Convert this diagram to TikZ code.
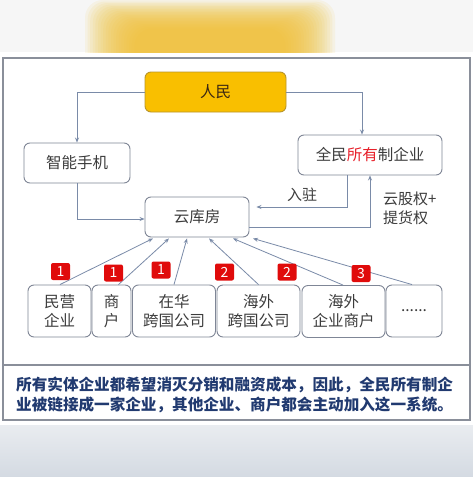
\documentclass[tikz,border=0pt]{standalone}
\usepackage{fontspec}
\setmainfont{Noto Sans CJK SC}
\newfontfamily\capfont{Noto Sans CJK SC}
\usetikzlibrary{arrows.meta,calc}
\definecolor{boxc}{HTML}{7F8696}
\definecolor{linec}{HTML}{7A8BA8}
\definecolor{txt}{HTML}{3C3C3C}
\definecolor{gold}{HTML}{F9BF00}
\definecolor{goldb}{HTML}{B8952A}
\definecolor{badge}{HTML}{E00B0B}
\definecolor{redt}{HTML}{E8202A}
\definecolor{capc}{HTML}{213A70}
\definecolor{framec}{HTML}{8A8F9A}
\definecolor{blob}{HTML}{F0C030}
\definecolor{bgtop}{HTML}{F6F6F6}
\definecolor{bgA}{HTML}{E9ECF0}
\definecolor{bgB}{HTML}{D4DAE2}
\begin{document}
\begin{tikzpicture}[x=1pt,y=-1pt,
  box/.style={draw=boxc, rounded corners=6pt, line width=0.9pt, fill=white, text=txt,
    font=\fontsize{15.5}{19}\selectfont, align=center, inner sep=0pt},
  arr/.style={draw=linec, line width=0.8pt, -{Stealth[length=5pt,width=4pt]}},
  badgebox/.style={fill=badge, rounded corners=2pt, text=white, minimum width=19pt,
    minimum height=17pt, inner sep=0pt, font=\fontsize{14}{14}\selectfont},
  lbl/.style={text=txt, font=\fontsize{15}{19}\selectfont, inner sep=0pt, align=left},
  captext/.style={text=capc, font=\capfont\bfseries\fontsize{15.6}{20}\selectfont, inner sep=0pt, anchor=west}]
\useasboundingbox (0,0) rectangle (473,477);
% backgrounds
\fill[white] (0,0) rectangle (473,477);
\fill[bgtop] (0,0) rectangle (473,52);
\begin{scope}
  \clip (0,0) rectangle (473,52);
  \foreach \i in {0,...,19}{
    \fill[blob, opacity=0.09, rounded corners=18pt]
      ({85+\i*2.6},{0+\i*1.5}) rectangle ({335-\i*2.6},{90});
  }
\end{scope}
\shade[top color=bgA, bottom color=bgB] (0,425) rectangle (473,477);
% frame
\draw[framec, line width=1.2pt] (3,58) rectangle (470,420);
\draw[framec, line width=1.2pt] (3,365) -- (470,365);
% main nodes
\node[box, fill=gold, draw=goldb, text={black!70!brown}, minimum width=141pt, minimum height=40pt] (renmin) at (215.5,92) {人民};
\node[box, minimum width=106pt, minimum height=40pt] (zhineng) at (77,163) {智能手机};
\node[box, minimum width=144pt, minimum height=40pt] (quanmin) at (370,155) {全民{\color{redt}所有}制企业};
\node[box, minimum width=104pt, minimum height=40pt] (yunku) at (197,217) {云库房};
% bottom boxes
\node[box, minimum width=63pt, minimum height=52pt] (b1) at (59.5,311) {民营\\企业};
\node[box, minimum width=39pt, minimum height=52pt] (b2) at (111.5,311) {商\\户};
\node[box, minimum width=83pt, minimum height=52pt] (b3) at (174,311) {在华\\跨国公司};
\node[box, minimum width=83pt, minimum height=52pt] (b4) at (258.5,311) {海外\\跨国公司};
\node[box, minimum width=83pt, minimum height=52pt] (b5) at (343.5,311.5) {海外\\企业商户};
\node[box, minimum width=56pt, minimum height=52pt] (b6) at (414,311) {......};
% top connectors
\draw[arr] (renmin.west) -| (zhineng.north);
\draw[arr] (renmin.east) -| ($(quanmin.north)+(-8,0)$);
\draw[arr] (zhineng.south) |- ($(yunku.west)+(0,2)$);
\draw[arr, shorten >=7pt] ($(quanmin.south)+(-23,0)$) |- ($(yunku.east)+(0,-10)$);
\draw[arr] ($(yunku.east)+(0,10)$) -| (quanmin.south);
\node[lbl] (ruzhu) at (302,195) {入驻};
\node[lbl, anchor=west] (gq) at (383,208) {云股权+\\提货权};
% bottom connectors
\coordinate (t1) at ($(yunku.south)+(-44,1)$);
\coordinate (t2) at ($(yunku.south)+(-28,1)$);
\coordinate (t3) at ($(yunku.south)+(-10,1)$);
\coordinate (t4) at ($(yunku.south)+(12,1)$);
\coordinate (t5) at ($(yunku.south)+(36,1)$);
\coordinate (t6) at ($(yunku.south)+(56,1)$);
\draw[arr] ($(b1.north)+(0.5,0)$) -- (t1);
\draw[arr] ($(b2.north)+(7,0)$) -- (t2);
\draw[arr] (b3.north) -- (t3);
\draw[arr] ($(b4.north)+(0,0)$) -- (t4);
\draw[arr] ($(b5.north)+(-0.5,0)$) -- (t5);
\draw[arr] ($(b6.north)+(-2,0)$) -- (t6);
% badges
\node[badgebox] (n1) at (60.5,271.5) {1};
\node[badgebox] (n2) at (113.5,273) {1};
\node[badgebox] (n3) at (161,270) {1};
\node[badgebox] (n4) at (224.5,272) {2};
\node[badgebox] (n5) at (287,272) {2};
\node[badgebox] (n6) at (361,273.5) {3};
% caption
\node[captext] (c1) at (16,385) {所有实体企业都希望消灭分销和融资成本，因此，全民所有制企};
\node[captext] (c2) at (16,405) {业被链接成一家企业，其他企业、商户都会主动加入这一系统。};
\end{tikzpicture}
\end{document}
